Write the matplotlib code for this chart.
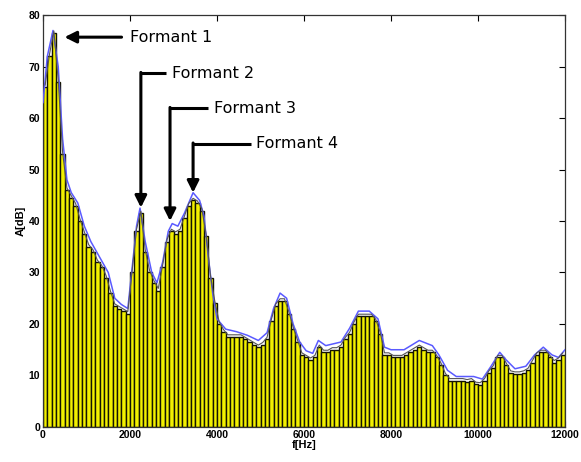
import matplotlib
matplotlib.use("Agg")
import matplotlib.pyplot as plt
import numpy as np

# Bin centre frequencies (Hz) and amplitudes (dB), 100 Hz bins
bin_width = 100
freqs = [50 + 100 * i for i in range(120)]
amps_db = [
    66, 72, 76.5, 67, 53, 46, 44.5, 43, 40, 37.5,
    35, 34, 32, 31, 29, 26, 23.5, 23, 22.5, 22,
    30, 38, 41.5, 34, 30, 28, 26.5, 31, 36, 38,
    37.5, 38, 40.5, 43, 44, 43.5, 42, 37, 29, 24,
    20, 18.5, 17.5, 17.5, 17.5, 17.5, 17, 16.5, 16, 15.5,
    16, 17, 20.5, 23.5, 24.5, 24.5, 22, 19, 16.5, 14,
    13.5, 13, 13.5, 15.5, 14.5, 14.5, 15, 15, 15.5, 17,
    18, 20, 21.5, 21.5, 21.5, 21.5, 20.5, 18, 14, 14,
    13.5, 13.5, 13.5, 14, 14.5, 15, 15.5, 15, 14.5, 14.5,
    13.5, 12, 10, 9, 9, 9, 9, 8.8, 9, 8.3,
    8.2, 9, 10.5, 11.5, 13.5, 13.5, 12, 10.5, 10.3, 10.3,
    10.5, 11, 12.5, 14, 14.5, 14.5, 13.5, 12.5, 13, 14,
]

# Smooth (blue) envelope
env_f = [0, 100, 230, 350, 450, 550, 650, 800, 950, 1100, 1300, 1500, 1650, 1800,
         1950, 2050, 2150, 2230, 2350, 2500, 2620, 2750, 2880, 2970, 3100, 3250,
         3450, 3600, 3700, 3800, 3900, 4000, 4200, 4450, 4700, 4950, 5150, 5300,
         5450, 5600, 5750, 5900, 6050, 6200, 6330, 6500, 6850, 7050, 7250, 7500,
         7700, 7850, 8000, 8300, 8650, 8950, 9100, 9300, 9500, 9900, 10100, 10300,
         10500, 10650, 10850, 11100, 11300, 11500, 11700, 11850, 12000]
env_db = [63, 72, 77, 70, 56, 48, 45.5, 43.5, 39, 36, 33, 30, 25, 23.8,
          23, 31, 39, 42.5, 36, 30, 28, 32, 38, 39.5, 39, 41.5,
          45.5, 44, 41, 33, 26, 21, 19, 18.5, 17.8, 16.8, 18.3, 23,
          26, 25, 20, 16.5, 14.8, 14.3, 16.8, 15.8, 16.5, 19.2, 22.5, 22.5,
          21, 15.5, 15, 15, 16.8, 15.8, 14, 11, 9.8, 9.8, 9.3, 11.8,
          14.5, 13, 11.3, 11.8, 14, 15.5, 14, 13.5, 15]

# Annotations: label, text position (f, dB), arrow tip (f, dB)
labels = ["Formant 1", "Formant 2", "Formant 3", "Formant 4"]
text_pos = [(2000, 75.7), (2960, 68.7), (3930, 61.9), (4900, 55.0)]
tips = [(430, 75.7), (2250, 42.6), (2920, 40.0), (3450, 45.5)]

fig = plt.figure(figsize=(5.81, 4.62), dpi=100)
ax = fig.add_axes([0.074, 0.0758, 0.8985, 0.8917])

ax.bar(freqs, amps_db, width=bin_width, color="#f2f000", edgecolor="#141400",
       linewidth=1.0, zorder=2)
ax.plot(env_f, env_db, color="#5a5aff", linewidth=1.1, zorder=3)
ax.plot(freqs, np.array(amps_db) + 0.4, color="#555555", linewidth=0.8, zorder=3)

for lab, (tx, ty), (px, py) in zip(labels, text_pos, tips):
    ax.text(tx, ty, lab, fontsize=11.5, fontweight="normal", family="DejaVu Sans",
            ha="left", va="center", zorder=5)
    start_x = tx - 130
    if abs(py - ty) < 0.5:
        ax.annotate("", xy=(px, py), xytext=(start_x, ty),
                    arrowprops=dict(arrowstyle="-|>,head_length=0.7,head_width=0.35",
                                    color="black", lw=2.2), zorder=5)
    else:
        ax.plot([start_x, px], [ty, ty], color="black", lw=2.2, solid_capstyle="butt",
                zorder=5)
        ax.annotate("", xy=(px, py), xytext=(px, ty + 0.15),
                    arrowprops=dict(arrowstyle="-|>,head_length=0.7,head_width=0.35",
                                    color="black", lw=2.2, shrinkA=0, shrinkB=0),
                    zorder=5)

ax.set_xlim(0, 12000)
ax.set_ylim(0, 80)
ax.set_xticks(range(0, 12001, 2000))
ax.set_yticks(range(0, 81, 10))
ax.tick_params(direction="in", length=4, top=True, right=True, labelsize=7.5,
               width=0.8, pad=2)
for lbl in ax.get_xticklabels() + ax.get_yticklabels():
    lbl.set_fontweight("bold")
    lbl.set_family("Liberation Sans")
ax.set_xlabel("f[Hz]", fontsize=8, fontweight="bold", labelpad=0,
              family="Liberation Sans")
ax.set_ylabel("A[dB]", fontsize=8, fontweight="bold", labelpad=2,
              family="Liberation Sans")
for s in ax.spines.values():
    s.set_linewidth(0.9)
    s.set_color("#333333")

fig.savefig("out.png", dpi=100)
